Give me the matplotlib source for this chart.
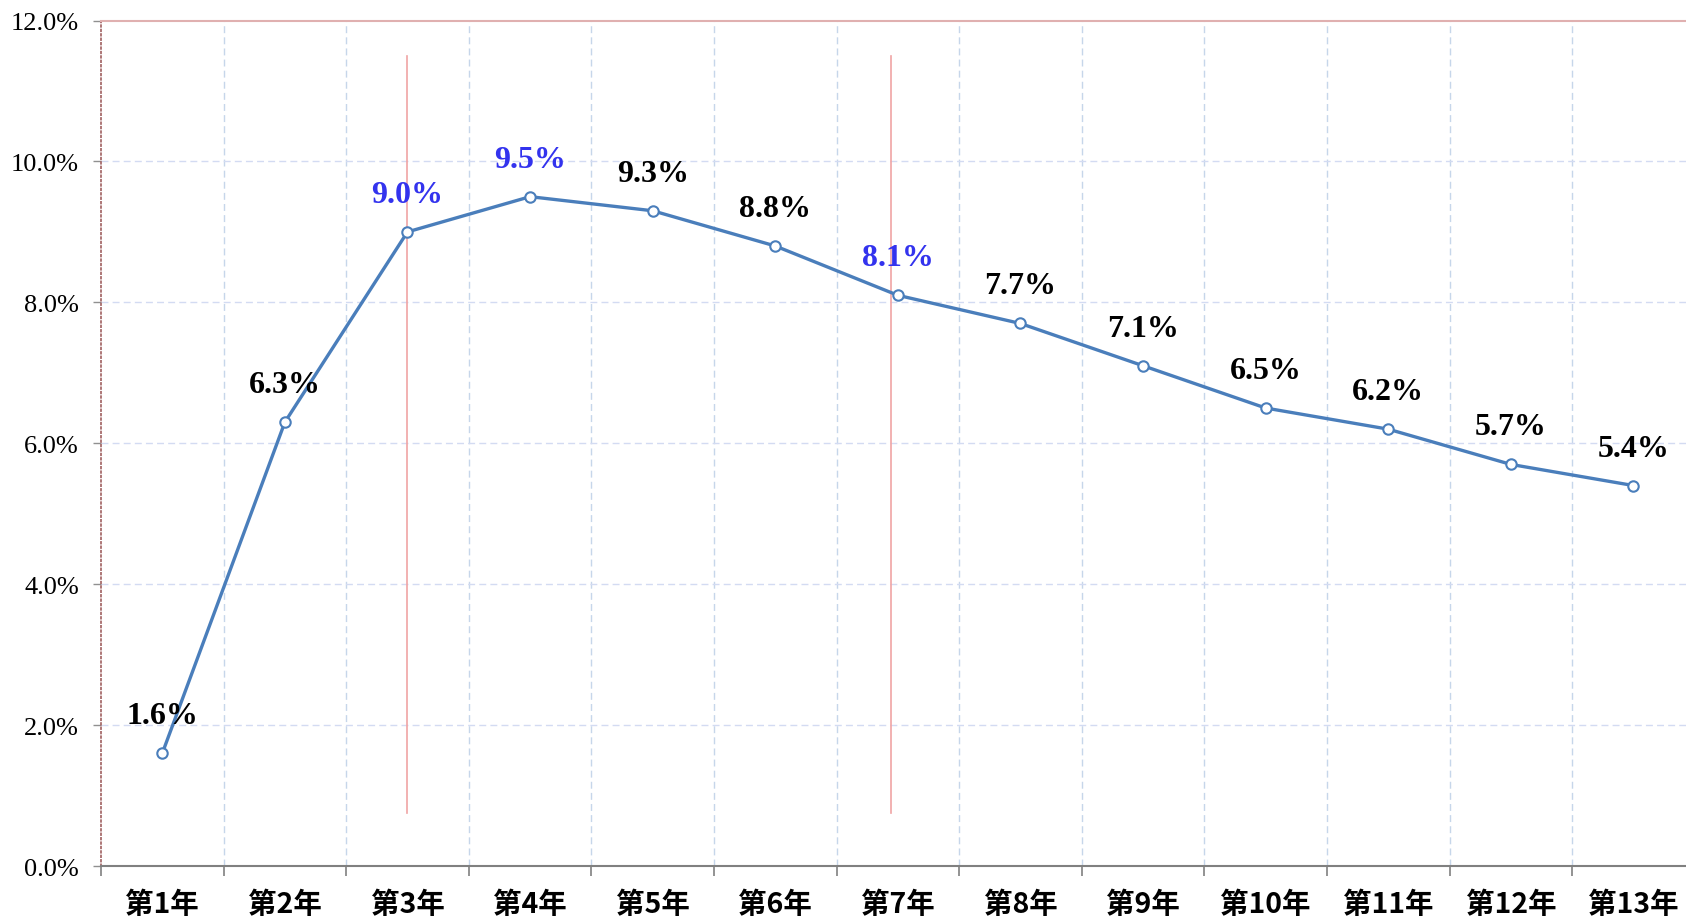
import matplotlib
matplotlib.use("Agg")
import matplotlib.pyplot as plt
from matplotlib.ticker import FixedLocator, FuncFormatter

# dati
years = ["第1年", "第2年", "第3年", "第4年", "第5年", "第6年", "第7年",
         "第8年", "第9年", "第10年", "第11年", "第12年", "第13年"]
values = [1.6, 6.3, 9.0, 9.5, 9.3, 8.8, 8.1, 7.7, 7.1, 6.5, 6.2, 5.7, 5.4]
highlight = ["第3年", "第4年", "第7年"]
# posizioni (in categorie) delle linee rosse: circa 第3年 e 第7年
marker_pos = [2.0, 5.94]
marker_span = [0.75, 11.5]

x = list(range(len(years)))

fig = plt.figure(figsize=(16.86, 9.2), dpi=100)
ax = fig.add_axes([0.0599, 0.0576, 0.9453, 0.919])

# griglia
for b in [i + 0.5 for i in x[:-1]]:
    ax.axvline(b, color="#c6d6ea", lw=1, ls=(0, (5, 3)), zorder=0)
for v in [2, 4, 6, 8, 10]:
    ax.axhline(v, color="#d3dbf2", lw=1, ls=(0, (5, 3)), zorder=0)

# linee verticali rosse
for p in marker_pos:
    ax.plot([p, p], marker_span, color="#f0a4a4", lw=1.2, zorder=1)

ax.plot(x, values, color="#4a7ebb", lw=2.4, marker="o", markersize=7.5,
        markerfacecolor="white", markeredgecolor="#4a7ebb", markeredgewidth=1.5,
        zorder=3)

for i, v in enumerate(values):
    col = "#3333ee" if years[i] in highlight else "black"
    ax.annotate(f"{v:.1f}%", (i, v), xytext=(0, 27), textcoords="offset points",
                ha="center", va="center", fontsize=23, fontweight="bold",
                family="Liberation Serif", color=col, zorder=4)

ax.set_xlim(-0.5, len(years) - 0.5)
ax.set_ylim(0, 12)

# assi
ax.xaxis.set_major_locator(FixedLocator([i - 0.5 for i in x] + [len(x) - 0.5]))
ax.xaxis.set_major_formatter(FuncFormatter(lambda v, p: ""))
ax.xaxis.set_minor_locator(FixedLocator(x))
ax.set_xticklabels(years, minor=True)
ax.tick_params(axis="x", which="major", length=7, width=1.2, color="#808080", direction="out")
ax.tick_params(axis="x", which="minor", length=0, pad=17)
for lab in ax.get_xticklabels(minor=True):
    lab.set_family("Noto Sans CJK SC")
    lab.set_fontweight("black")
    lab.set_fontsize(20.5)

ax.set_yticks([0, 2, 4, 6, 8, 10, 12])
ax.yaxis.set_major_formatter(FuncFormatter(lambda v, p: f"{v:.1f}%"))
ax.tick_params(axis="y", length=6, width=1, color="#909090", pad=10)
for lab in ax.get_yticklabels():
    lab.set_family("Liberation Serif")
    lab.set_fontsize(19)

ax.spines["right"].set_visible(False)
ax.spines["top"].set_color("#e0b0b0")
ax.spines["top"].set_linewidth(1.5)
ax.spines["left"].set_color("#a06060")
ax.spines["left"].set_linestyle(":")
ax.spines["left"].set_linewidth(1.2)
ax.spines["bottom"].set_color("#808080")
ax.spines["bottom"].set_linewidth(1.5)

plt.savefig("out.png", dpi=100)
